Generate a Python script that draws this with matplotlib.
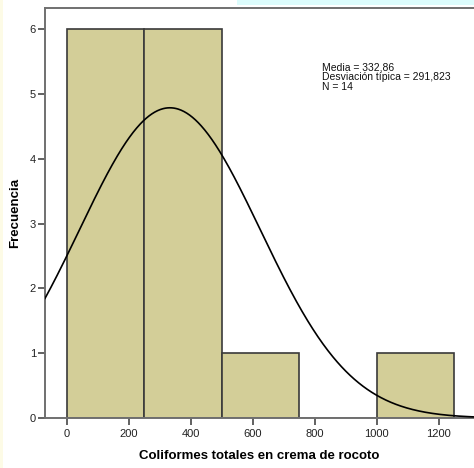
import numpy as np
import matplotlib.pyplot as plt
from matplotlib.patches import Rectangle

plt.rcParams['font.family'] = ['Liberation Sans', 'DejaVu Sans']

# Histogram bins (lower edges) and frequencies
bin_edges = [0, 250, 500, 750, 1000]
bin_width = 250
counts = [6, 6, 1, 0, 1]

# Summary statistics
mean = 332.86
std = 291.823
n = 14

x_ticks = [0, 200, 400, 600, 800, 1000, 1200]
y_ticks = [0, 1, 2, 3, 4, 5, 6]

W, H = 474, 468
fig = plt.figure(figsize=(W / 100, H / 100), dpi=100, facecolor='white')

# faint coloured band along the top of the page
fig.patches.append(Rectangle((0.5, 1 - 5 / H), 0.5, 5 / H, transform=fig.transFigure,
                             facecolor='#dcfcfc', edgecolor='none', zorder=0))
fig.patches.append(Rectangle((0, 0), 3 / W, 1, transform=fig.transFigure,
                             facecolor='#fdfbe6', edgecolor='none', zorder=0))

left, bottom, top = 45 / W, 1 - 418 / H, 1 - 8 / H
ax = fig.add_axes([left, bottom, 1.0 - left, top - bottom])

bar_color = '#d3ce98'
edge_color = '#3a3a3a'
ax.bar(bin_edges, counts, width=bin_width, align='edge', color=bar_color,
       edgecolor=edge_color, linewidth=1.2, zorder=2)

# normal curve scaled to the histogram
xmin, xmax = -70, 1314
xs = np.linspace(xmin, xmax, 600)
pdf = np.exp(-0.5 * ((xs - mean) / std) ** 2) / (std * np.sqrt(2 * np.pi))
ax.plot(xs, n * bin_width * pdf, color='black', linewidth=1.2, zorder=3)

ax.set_xlim(xmin, xmax)
ax.set_ylim(0, 6.324)
ax.set_xticks(x_ticks)
ax.set_yticks(y_ticks)

spine_color = '#707070'
for side in ('left', 'top', 'bottom'):
    ax.spines[side].set_color(spine_color)
    ax.spines[side].set_linewidth(1.4)
ax.spines['right'].set_visible(False)

ax.tick_params(axis='both', direction='out', length=5, width=1.3,
               color='#555555', labelsize=8, labelcolor='#222222', pad=1.5)
ax.tick_params(axis='x', pad=3)

ax.set_xlabel('Coliformes totales en crema de rocoto', fontsize=9.5,
              fontweight='bold', labelpad=8)
ax.set_ylabel('Frecuencia', fontsize=9.5, fontweight='bold', labelpad=6)

stats_text = 'Media = {:.2f}\nDesviación típica = {:.3f}\nN = {}'.format(
    mean, std, n).replace('.', ',')
fig.text(322 / W, 1 - 62 / H, stats_text, fontsize=7.5, va='top', ha='left',
         linespacing=1.0, color='#111111')

fig.savefig('out.png', dpi=100, facecolor='white')
